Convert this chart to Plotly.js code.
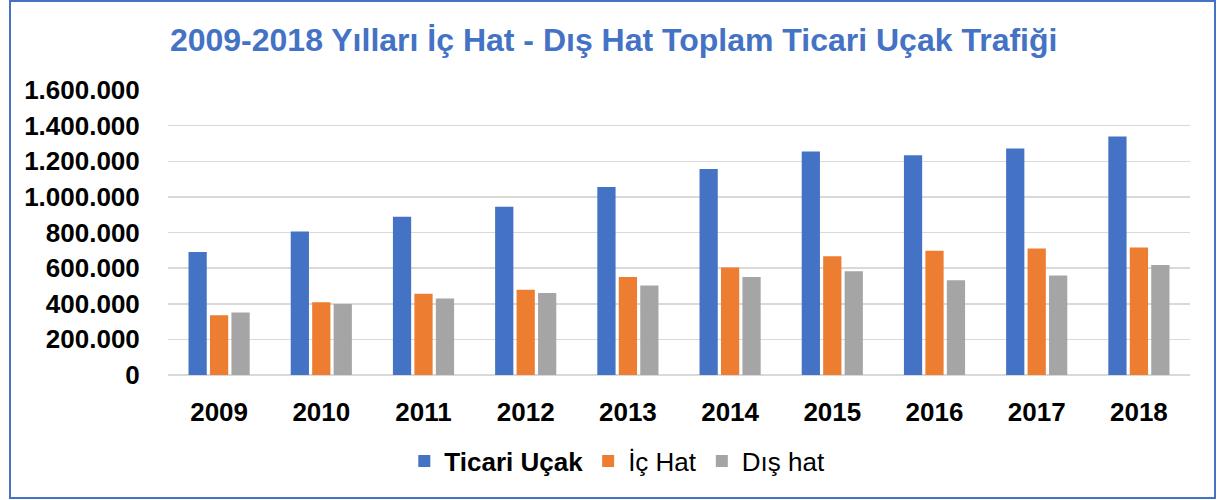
<!DOCTYPE html>
<html>
<head>
<meta charset="utf-8">
<script src="https://cdn.plot.ly/plotly-3.0.1.min.js"></script>
<style>
  html, body { margin: 0; padding: 0; background: #fff; }
  #wrap { position: relative; width: 1220px; height: 500px; }
  #chart { width: 1220px; height: 500px; }
  #frame {
    position: absolute; left: 9px; top: 0; width: 1203px; height: 495px;
    border: 2px solid #4472C4; pointer-events: none;
  }
</style>
</head>
<body>
<div id="wrap">
  <div id="chart"></div>
  <div id="frame"></div>
</div>
<script>
/* ── DATA ──────────────────────────────── */
const years = ['2009', '2010', '2011', '2012', '2013', '2014', '2015', '2016', '2017', '2018'];
const ticariUcak = [691000, 806000, 888000, 945000, 1056000, 1157000, 1255000, 1234000, 1272000, 1339000];
const icHat      = [336000, 408000, 456000, 479000, 550000, 603000, 667000, 697000, 710000, 716000];
const disHat     = [351000, 398000, 430000, 460000, 503000, 550000, 582000, 532000, 558000, 618000];
const yTicks     = [0, 200000, 400000, 600000, 800000, 1000000, 1200000, 1400000, 1600000];

const FONT = 'Liberation Sans, Arial, sans-serif';

function barTrace(name, values, color) {
  return {
    type: 'bar',
    name,
    x: years,
    y: values,
    marker: { color },
    hoverinfo: 'x+y',
  };
}

const traces = [
  barTrace('<b>Ticari Uçak</b>', ticariUcak, '#4472C4'),
  barTrace('İç Hat', icHat, '#ED7D31'),
  barTrace('Dış hat', disHat, '#A5A5A5'),
];

const layout = {
  width: 1220,
  height: 500,
  paper_bgcolor: '#ffffff',
  plot_bgcolor: '#ffffff',
  separators: ',.',
  font: { family: FONT, color: '#000000', size: 26 },
  margin: { l: 168, r: 30, t: 90, b: 125 },
  barmode: 'group',
  bargap: 0.37,
  bargroupgap: 0.15,
  title: {
    text: '<b>2009-2018 Yılları İç Hat - Dış Hat Toplam Ticari Uçak Trafiği</b>',
    font: { family: FONT, color: '#4472C4', size: 32 },
    x: 0.503, xanchor: 'center',
    yref: 'container', y: 0.92, yanchor: 'middle',
  },
  xaxis: {
    type: 'category',
    tickfont: { family: FONT, size: 26, color: '#000000', weight: 'bold' },
    ticks: 'outside', ticklen: 14, tickcolor: 'rgba(0,0,0,0)',
    showline: false,
    showgrid: false,
  },
  yaxis: {
    range: [0, 1600000],
    tickvals: yTicks,
    tickformat: ',d',
    tickfont: { family: FONT, size: 26, color: '#000000', weight: 'bold' },
    ticks: 'outside', ticklen: 22, tickcolor: 'rgba(0,0,0,0)',
    gridcolor: '#d9d9d9', gridwidth: 1.5,
    zeroline: true, zerolinecolor: '#d9d9d9', zerolinewidth: 1.5,
    showline: false,
  },
  showlegend: true,
  legend: {
    orientation: 'h',
    xref: 'container', x: 0.506, xanchor: 'center',
    yref: 'container', y: 0.078, yanchor: 'middle',
    font: { family: FONT, size: 26, color: '#000000' },
    itemclick: false,
  },
};

Plotly.newPlot('chart', traces, layout, { displayModeBar: false, staticPlot: true });
</script>
</body>
</html>
